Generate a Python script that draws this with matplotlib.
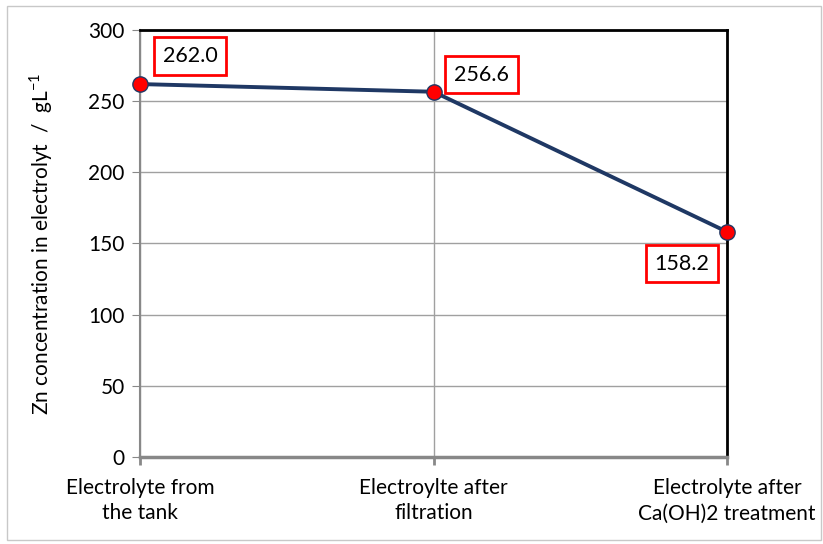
import numpy as np
import matplotlib.pyplot as plt

plt.rcParams['font.family'] = ['Lato', 'DejaVu Sans']

stages = ['Electrolyte from\nthe tank', 'Electroylte after\nfiltration', 'Electrolyte after\nCa(OH)2 treatment']
zn_conc = [262.0, 256.6, 158.2]
label_offsets = [(50, 28), (48, 17), (-45, -32)]

fig = plt.figure(figsize=(8.23, 5.44), dpi=100)
ax = fig.add_axes([0.1701, 0.1599, 0.7133, 0.785])

x = np.arange(len(stages))
ax.plot(x, zn_conc, color='#1f3864', lw=2.8, marker='o', ms=11,
        mfc='#ff0000', mec='#1f3864', mew=1, zorder=5, clip_on=False)

for xi, val, off in zip(x, zn_conc, label_offsets):
    ax.annotate(f'{val:.1f}', (xi, val), xytext=off, textcoords='offset pixels',
                ha='center', va='center', fontsize=15.5,
                bbox=dict(boxstyle='square,pad=0.4', fc='white', ec='#ff0000', lw=2))

ax.set_xlim(0, 2)
ax.set_ylim(0, 300)
ax.set_yticks(np.arange(0, 301, 50))
ax.set_xticks(x)
ax.set_xticklabels(stages, fontsize=15, linespacing=1.35)
ax.tick_params(axis='y', labelsize=15, length=6, color='#888888', direction='out', pad=5)
ax.tick_params(axis='x', length=6, width=2, color='#888888', direction='out', pad=9)
ax.grid(True, color='#a0a0a0', lw=1)
ax.set_axisbelow(True)

ax.spines['left'].set_color('#888888')
ax.spines['left'].set_linewidth(1.5)
ax.spines['bottom'].set_color('#888888')
ax.spines['bottom'].set_linewidth(2.5)
ax.spines['top'].set_color('black')
ax.spines['top'].set_linewidth(2)
ax.spines['right'].set_color('black')
ax.spines['right'].set_linewidth(2)

ax.set_ylabel('Zn concentration in electrolyt  /  gL$^{\\mathregular{-1}}$', fontsize=15, labelpad=24)

fig.patches.append(plt.Rectangle((7 / 823, 4 / 544), 814 / 823, 534 / 544, transform=fig.transFigure,
                                 fill=False, ec='#c8c8c8', lw=1))

fig.savefig('out.png', dpi=100)
